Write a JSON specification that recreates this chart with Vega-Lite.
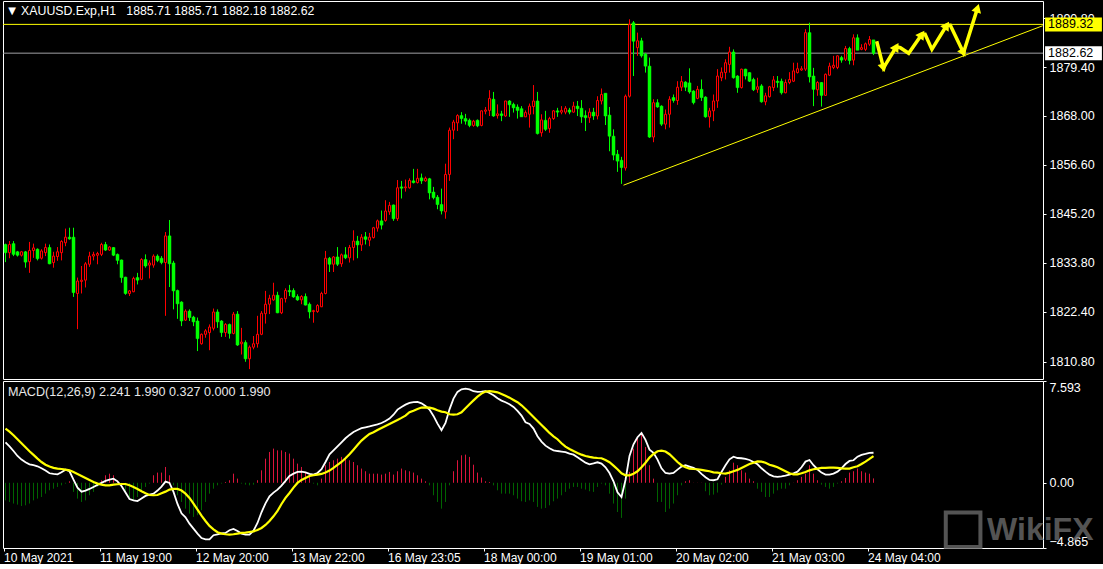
{
"$schema": "https://vega.github.io/schema/vega-lite/v6.json",
"background": "#000000",
"padding": 0,
"spacing": 2,
"bounds": "flush",
"config": {
  "view": {"stroke": "#ffffff", "strokeWidth": 1},
  "scale": {"continuousPadding": 0},
  "axis": {"grid": false, "domain": false, "labelColor": "#ffffff", "tickColor": "#ffffff", "labelFont": "Liberation Sans", "labelFontSize": 12.5, "tickSize": 3}
},
"datasets": {
"bars": [
{"i":0,"o":1838.1,"h":1838.3,"l":1834.0,"c":1836.2,"m":3.02,"s":4.04,"d":-1.31},
{"i":1,"o":1836.2,"h":1838.9,"l":1834.9,"c":1838.1,"m":2.72,"s":3.82,"d":-1.43},
{"i":2,"o":1838.3,"h":1838.9,"l":1835.4,"c":1835.8,"m":2.37,"s":3.55,"d":-1.55},
{"i":3,"o":1836.4,"h":1836.6,"l":1835.3,"c":1835.6,"m":2.00,"s":3.25,"d":-1.63},
{"i":4,"o":1835.6,"h":1836.6,"l":1835.3,"c":1836.4,"m":1.73,"s":2.95,"d":-1.73},
{"i":5,"o":1836.4,"h":1836.6,"l":1832.7,"c":1834.0,"m":1.53,"s":2.65,"d":-1.68},
{"i":6,"o":1834.1,"h":1838.7,"l":1831.5,"c":1836.7,"m":1.38,"s":2.35,"d":-1.55},
{"i":7,"o":1836.7,"h":1838.3,"l":1835.0,"c":1837.3,"m":1.31,"s":2.08,"d":-1.31},
{"i":8,"o":1837.0,"h":1837.2,"l":1834.4,"c":1834.8,"m":1.23,"s":1.80,"d":-1.18},
{"i":9,"o":1834.9,"h":1837.0,"l":1834.6,"c":1836.6,"m":1.08,"s":1.55,"d":-1.06},
{"i":10,"o":1836.2,"h":1838.3,"l":1835.4,"c":1837.4,"m":0.91,"s":1.35,"d":-0.81},
{"i":11,"o":1837.4,"h":1838.1,"l":1833.5,"c":1833.6,"m":0.71,"s":1.21,"d":-0.56},
{"i":12,"o":1833.9,"h":1836.4,"l":1832.7,"c":1835.4,"m":0.66,"s":1.11,"d":-0.44},
{"i":13,"o":1835.3,"h":1837.5,"l":1834.3,"c":1836.4,"m":0.63,"s":1.06,"d":-0.31},
{"i":14,"o":1836.2,"h":1839.1,"l":1834.4,"c":1838.8,"m":0.78,"s":1.03,"d":-0.19},
{"i":15,"o":1838.5,"h":1841.8,"l":1837.7,"c":1839.8,"m":0.98,"s":0.98,"d":-0.06},
{"i":16,"o":1839.8,"h":1842.0,"l":1839.2,"c":1839.4,"m":0.86,"s":0.93,"d":0.11},
{"i":17,"o":1839.8,"h":1842.0,"l":1825.9,"c":1826.9,"m":0.24,"s":0.81,"d":-0.68},
{"i":18,"o":1826.7,"h":1830.4,"l":1818.4,"c":1829.6,"m":-0.36,"s":0.66,"d":-1.18},
{"i":19,"o":1829.5,"h":1833.1,"l":1826.7,"c":1829.8,"m":-0.66,"s":0.51,"d":-1.43},
{"i":20,"o":1829.8,"h":1834.0,"l":1828.1,"c":1833.6,"m":-0.58,"s":0.36,"d":-1.31},
{"i":21,"o":1833.5,"h":1836.4,"l":1832.9,"c":1835.4,"m":-0.46,"s":0.21,"d":-0.93},
{"i":22,"o":1835.4,"h":1836.4,"l":1834.4,"c":1835.8,"m":-0.31,"s":0.06,"d":-0.68},
{"i":23,"o":1835.6,"h":1836.4,"l":1833.5,"c":1836.0,"m":-0.16,"s":-0.06,"d":-0.31},
{"i":24,"o":1835.8,"h":1838.5,"l":1835.4,"c":1838.1,"m":-0.01,"s":-0.14,"d":0.19},
{"i":25,"o":1838.1,"h":1838.7,"l":1836.6,"c":1836.8,"m":0.14,"s":-0.19,"d":0.56},
{"i":26,"o":1836.8,"h":1837.7,"l":1836.6,"c":1837.5,"m":0.24,"s":-0.19,"d":0.68},
{"i":27,"o":1837.4,"h":1837.5,"l":1835.4,"c":1835.6,"m":0.31,"s":-0.14,"d":0.56},
{"i":28,"o":1835.8,"h":1836.0,"l":1833.5,"c":1834.4,"m":0.11,"s":-0.11,"d":0.19},
{"i":29,"o":1834.5,"h":1834.6,"l":1829.2,"c":1830.4,"m":-0.24,"s":-0.09,"d":-0.19},
{"i":30,"o":1830.5,"h":1830.6,"l":1826.4,"c":1826.7,"m":-0.73,"s":-0.09,"d":-0.68},
{"i":31,"o":1826.7,"h":1827.5,"l":1826.1,"c":1827.3,"m":-1.21,"s":-0.19,"d":-1.06},
{"i":32,"o":1827.1,"h":1830.6,"l":1827.0,"c":1830.2,"m":-1.31,"s":-0.31,"d":-1.31},
{"i":33,"o":1830.4,"h":1831.5,"l":1828.8,"c":1829.8,"m":-1.36,"s":-0.46,"d":-1.06},
{"i":34,"o":1830.0,"h":1834.9,"l":1829.8,"c":1834.6,"m":-1.18,"s":-0.63,"d":-0.68},
{"i":35,"o":1834.6,"h":1835.8,"l":1832.7,"c":1833.1,"m":-0.98,"s":-0.78,"d":-0.31},
{"i":36,"o":1833.3,"h":1834.4,"l":1830.2,"c":1833.8,"m":-0.88,"s":-0.91,"d":-0.06},
{"i":37,"o":1833.3,"h":1835.8,"l":1832.7,"c":1835.4,"m":-0.81,"s":-0.93,"d":0.56},
{"i":38,"o":1835.4,"h":1835.8,"l":1834.0,"c":1834.4,"m":-0.58,"s":-0.91,"d":0.76},
{"i":39,"o":1834.9,"h":1835.4,"l":1833.5,"c":1833.9,"m":-0.29,"s":-0.78,"d":0.76},
{"i":40,"o":1833.9,"h":1841.0,"l":1821.5,"c":1840.1,"m":0.09,"s":-0.66,"d":1.18},
{"i":41,"o":1840.1,"h":1843.8,"l":1828.2,"c":1833.6,"m":-0.01,"s":-0.51,"d":0.56},
{"i":42,"o":1833.8,"h":1834.3,"l":1823.0,"c":1827.3,"m":-0.68,"s":-0.46,"d":-0.19},
{"i":43,"o":1827.4,"h":1827.6,"l":1820.8,"c":1824.3,"m":-1.58,"s":-0.46,"d":-0.93},
{"i":44,"o":1824.7,"h":1824.9,"l":1819.1,"c":1820.3,"m":-2.28,"s":-0.58,"d":-1.43},
{"i":45,"o":1820.5,"h":1823.0,"l":1820.3,"c":1822.6,"m":-2.57,"s":-0.81,"d":-1.93},
{"i":46,"o":1822.6,"h":1823.0,"l":1820.3,"c":1821.1,"m":-3.05,"s":-1.13,"d":-2.30},
{"i":47,"o":1821.2,"h":1821.5,"l":1819.1,"c":1820.1,"m":-3.42,"s":-1.55,"d":-2.55},
{"i":48,"o":1820.3,"h":1821.1,"l":1813.3,"c":1816.2,"m":-3.79,"s":-2.00,"d":-2.42},
{"i":49,"o":1815.0,"h":1817.4,"l":1814.8,"c":1817.2,"m":-4.12,"s":-2.45,"d":-2.05},
{"i":50,"o":1817.2,"h":1818.4,"l":1816.4,"c":1818.0,"m":-4.22,"s":-2.85,"d":-1.43},
{"i":51,"o":1817.6,"h":1819.5,"l":1813.5,"c":1818.9,"m":-4.22,"s":-3.22,"d":-0.81},
{"i":52,"o":1818.6,"h":1823.2,"l":1818.1,"c":1822.4,"m":-3.91,"s":-3.47,"d":-0.44},
{"i":53,"o":1822.4,"h":1823.0,"l":1818.7,"c":1820.1,"m":-3.84,"s":-3.69,"d":-0.19},
{"i":54,"o":1820.3,"h":1820.5,"l":1816.6,"c":1817.6,"m":-3.77,"s":-3.79,"d":-0.06},
{"i":55,"o":1817.6,"h":1819.8,"l":1816.6,"c":1819.5,"m":-3.74,"s":-3.84,"d":0.06},
{"i":56,"o":1819.5,"h":1819.7,"l":1816.2,"c":1817.4,"m":-3.54,"s":-3.86,"d":0.19},
{"i":57,"o":1817.4,"h":1822.4,"l":1817.2,"c":1821.9,"m":-3.44,"s":-3.84,"d":0.68},
{"i":58,"o":1821.9,"h":1822.6,"l":1814.5,"c":1814.7,"m":-3.59,"s":-3.79,"d":0.31},
{"i":59,"o":1815.0,"h":1818.7,"l":1812.5,"c":1815.4,"m":-3.79,"s":-3.74,"d":-0.06},
{"i":60,"o":1815.3,"h":1815.8,"l":1810.8,"c":1811.5,"m":-3.86,"s":-3.72,"d":-0.14},
{"i":61,"o":1811.5,"h":1814.6,"l":1809.1,"c":1814.2,"m":-3.86,"s":-3.67,"d":-0.19},
{"i":62,"o":1814.2,"h":1816.8,"l":1813.7,"c":1815.0,"m":-3.57,"s":-3.62,"d":-0.14},
{"i":63,"o":1815.0,"h":1821.5,"l":1814.1,"c":1817.2,"m":-3.00,"s":-3.52,"d":0.19},
{"i":64,"o":1817.2,"h":1822.6,"l":1817.0,"c":1822.1,"m":-2.20,"s":-3.37,"d":0.93},
{"i":65,"o":1822.0,"h":1827.3,"l":1819.7,"c":1824.2,"m":-1.53,"s":-3.15,"d":1.80},
{"i":66,"o":1824.2,"h":1826.4,"l":1821.9,"c":1825.6,"m":-1.01,"s":-2.85,"d":2.30},
{"i":67,"o":1825.2,"h":1829.2,"l":1825.0,"c":1826.3,"m":-0.73,"s":-2.50,"d":2.55},
{"i":68,"o":1826.3,"h":1827.1,"l":1822.1,"c":1822.2,"m":-0.51,"s":-2.10,"d":2.42},
{"i":69,"o":1822.2,"h":1825.7,"l":1821.9,"c":1825.5,"m":-0.21,"s":-1.58,"d":2.42},
{"i":70,"o":1825.5,"h":1827.9,"l":1824.6,"c":1827.4,"m":0.14,"s":-1.13,"d":2.30},
{"i":71,"o":1827.4,"h":1828.7,"l":1826.1,"c":1827.1,"m":0.51,"s":-0.76,"d":2.18},
{"i":72,"o":1827.4,"h":1827.9,"l":1825.7,"c":1825.9,"m":0.68,"s":-0.36,"d":1.80},
{"i":73,"o":1826.0,"h":1826.5,"l":1825.0,"c":1825.2,"m":0.81,"s":-0.01,"d":1.43},
{"i":74,"o":1825.2,"h":1826.3,"l":1824.2,"c":1826.0,"m":0.83,"s":0.21,"d":1.18},
{"i":75,"o":1826.0,"h":1826.7,"l":1823.9,"c":1824.0,"m":0.78,"s":0.36,"d":0.81},
{"i":76,"o":1824.2,"h":1824.6,"l":1820.9,"c":1822.4,"m":0.66,"s":0.51,"d":0.44},
{"i":77,"o":1822.5,"h":1822.9,"l":1819.9,"c":1822.7,"m":0.61,"s":0.56,"d":-0.06},
{"i":78,"o":1822.5,"h":1824.2,"l":1822.2,"c":1823.9,"m":0.73,"s":0.61,"d":-0.19},
{"i":79,"o":1823.6,"h":1827.1,"l":1823.6,"c":1826.7,"m":1.01,"s":0.66,"d":0.31},
{"i":80,"o":1826.7,"h":1836.6,"l":1826.5,"c":1834.9,"m":1.55,"s":0.76,"d":1.31},
{"i":81,"o":1834.9,"h":1835.2,"l":1831.7,"c":1833.5,"m":2.13,"s":0.91,"d":1.55},
{"i":82,"o":1833.5,"h":1835.4,"l":1831.7,"c":1835.2,"m":2.42,"s":1.11,"d":1.68},
{"i":83,"o":1835.2,"h":1837.5,"l":1833.1,"c":1833.5,"m":2.72,"s":1.33,"d":1.80},
{"i":84,"o":1833.6,"h":1836.0,"l":1832.9,"c":1835.7,"m":3.02,"s":1.55,"d":1.93},
{"i":85,"o":1835.7,"h":1837.5,"l":1834.7,"c":1835.0,"m":3.32,"s":1.83,"d":1.93},
{"i":86,"o":1835.0,"h":1838.0,"l":1833.9,"c":1837.4,"m":3.57,"s":2.13,"d":1.68},
{"i":87,"o":1837.4,"h":1841.4,"l":1834.4,"c":1838.9,"m":3.79,"s":2.47,"d":1.55},
{"i":88,"o":1838.9,"h":1840.1,"l":1834.9,"c":1838.0,"m":3.94,"s":2.82,"d":1.31},
{"i":89,"o":1838.0,"h":1840.5,"l":1836.6,"c":1839.8,"m":4.07,"s":3.15,"d":1.06},
{"i":90,"o":1839.9,"h":1841.0,"l":1838.1,"c":1839.3,"m":4.14,"s":3.40,"d":0.86},
{"i":91,"o":1839.1,"h":1840.8,"l":1837.7,"c":1839.8,"m":4.21,"s":3.64,"d":0.68},
{"i":92,"o":1839.7,"h":1842.2,"l":1839.5,"c":1842.0,"m":4.29,"s":3.77,"d":0.68},
{"i":93,"o":1841.9,"h":1843.9,"l":1841.1,"c":1843.6,"m":4.36,"s":3.94,"d":0.68},
{"i":94,"o":1843.6,"h":1846.0,"l":1841.6,"c":1842.6,"m":4.46,"s":4.09,"d":0.61},
{"i":95,"o":1843.7,"h":1848.4,"l":1843.4,"c":1845.9,"m":4.61,"s":4.24,"d":0.68},
{"i":96,"o":1845.7,"h":1848.0,"l":1845.0,"c":1847.2,"m":4.79,"s":4.39,"d":0.81},
{"i":97,"o":1847.3,"h":1847.4,"l":1843.6,"c":1844.1,"m":5.08,"s":4.54,"d":0.61},
{"i":98,"o":1844.1,"h":1853.1,"l":1843.6,"c":1851.3,"m":5.46,"s":4.69,"d":0.86},
{"i":99,"o":1851.5,"h":1852.9,"l":1848.8,"c":1851.2,"m":5.66,"s":4.84,"d":1.06},
{"i":100,"o":1851.3,"h":1853.2,"l":1850.4,"c":1851.5,"m":5.83,"s":5.01,"d":0.93},
{"i":101,"o":1851.3,"h":1853.5,"l":1851.1,"c":1853.0,"m":5.96,"s":5.26,"d":0.86},
{"i":102,"o":1852.9,"h":1855.7,"l":1852.3,"c":1852.5,"m":6.01,"s":5.38,"d":0.76},
{"i":103,"o":1852.5,"h":1855.7,"l":1852.3,"c":1853.5,"m":6.03,"s":5.51,"d":0.56},
{"i":104,"o":1853.6,"h":1854.6,"l":1852.2,"c":1852.9,"m":5.93,"s":5.61,"d":0.31},
{"i":105,"o":1852.9,"h":1853.9,"l":1852.7,"c":1853.5,"m":5.73,"s":5.63,"d":0.11},
{"i":106,"o":1853.4,"h":1853.6,"l":1848.6,"c":1850.1,"m":5.46,"s":5.61,"d":-0.19},
{"i":107,"o":1850.3,"h":1851.5,"l":1848.6,"c":1849.0,"m":4.99,"s":5.53,"d":-0.93},
{"i":108,"o":1849.1,"h":1849.6,"l":1846.3,"c":1847.4,"m":4.41,"s":5.41,"d":-1.43},
{"i":109,"o":1847.4,"h":1851.1,"l":1845.1,"c":1845.9,"m":3.92,"s":5.31,"d":-1.93},
{"i":110,"o":1845.7,"h":1856.9,"l":1844.1,"c":1854.4,"m":4.46,"s":5.26,"d":-1.43},
{"i":111,"o":1854.4,"h":1865.3,"l":1852.9,"c":1864.7,"m":5.48,"s":5.11,"d":-0.19},
{"i":112,"o":1864.7,"h":1867.1,"l":1862.6,"c":1866.6,"m":6.28,"s":5.08,"d":0.86},
{"i":113,"o":1866.4,"h":1868.4,"l":1864.5,"c":1868.1,"m":6.78,"s":5.11,"d":1.68},
{"i":114,"o":1868.1,"h":1868.9,"l":1866.2,"c":1867.4,"m":6.97,"s":5.26,"d":2.05},
{"i":115,"o":1867.4,"h":1868.5,"l":1866.0,"c":1866.8,"m":7.02,"s":5.56,"d":2.10},
{"i":116,"o":1867.0,"h":1867.4,"l":1865.4,"c":1865.8,"m":6.97,"s":5.86,"d":1.93},
{"i":117,"o":1865.8,"h":1867.1,"l":1865.5,"c":1866.8,"m":6.83,"s":6.15,"d":1.35},
{"i":118,"o":1867.0,"h":1867.2,"l":1865.4,"c":1865.7,"m":6.78,"s":6.43,"d":0.76},
{"i":119,"o":1865.8,"h":1869.3,"l":1865.6,"c":1869.2,"m":6.80,"s":6.65,"d":0.39},
{"i":120,"o":1869.1,"h":1870.1,"l":1868.4,"c":1869.4,"m":6.83,"s":6.80,"d":0.11},
{"i":121,"o":1869.3,"h":1874.0,"l":1868.0,"c":1872.1,"m":6.70,"s":6.83,"d":0.06},
{"i":122,"o":1871.9,"h":1873.6,"l":1867.8,"c":1868.0,"m":6.53,"s":6.80,"d":-0.19},
{"i":123,"o":1868.1,"h":1870.7,"l":1867.4,"c":1868.5,"m":6.30,"s":6.75,"d":-0.56},
{"i":124,"o":1868.5,"h":1869.2,"l":1866.8,"c":1868.1,"m":6.13,"s":6.63,"d":-0.81},
{"i":125,"o":1868.0,"h":1871.5,"l":1867.8,"c":1871.5,"m":6.01,"s":6.50,"d":-0.81},
{"i":126,"o":1871.5,"h":1871.7,"l":1867.8,"c":1870.6,"m":5.86,"s":6.35,"d":-0.81},
{"i":127,"o":1870.7,"h":1871.1,"l":1868.8,"c":1869.9,"m":5.66,"s":6.18,"d":-0.93},
{"i":128,"o":1870.1,"h":1870.7,"l":1867.4,"c":1869.3,"m":5.36,"s":6.01,"d":-1.18},
{"i":129,"o":1869.7,"h":1870.3,"l":1867.8,"c":1867.8,"m":5.01,"s":5.78,"d":-1.38},
{"i":130,"o":1867.8,"h":1869.3,"l":1867.8,"c":1868.8,"m":4.51,"s":5.51,"d":-1.43},
{"i":131,"o":1868.4,"h":1870.9,"l":1865.3,"c":1870.3,"m":4.39,"s":5.21,"d":-1.31},
{"i":132,"o":1870.2,"h":1875.2,"l":1868.4,"c":1871.5,"m":4.04,"s":4.91,"d":-1.43},
{"i":133,"o":1871.5,"h":1873.6,"l":1863.7,"c":1863.9,"m":3.47,"s":4.61,"d":-1.80},
{"i":134,"o":1864.1,"h":1868.4,"l":1863.2,"c":1867.1,"m":3.07,"s":4.31,"d":-1.93},
{"i":135,"o":1867.0,"h":1869.2,"l":1864.5,"c":1864.9,"m":2.77,"s":4.02,"d":-1.88},
{"i":136,"o":1865.1,"h":1867.8,"l":1864.1,"c":1867.4,"m":2.57,"s":3.72,"d":-1.68},
{"i":137,"o":1867.4,"h":1869.4,"l":1867.1,"c":1869.2,"m":2.42,"s":3.47,"d":-1.38},
{"i":138,"o":1869.2,"h":1869.9,"l":1867.8,"c":1868.9,"m":2.37,"s":3.25,"d":-1.18},
{"i":139,"o":1868.9,"h":1870.3,"l":1868.4,"c":1869.3,"m":2.33,"s":2.95,"d":-0.93},
{"i":140,"o":1868.9,"h":1870.3,"l":1868.4,"c":1869.8,"m":2.28,"s":2.70,"d":-0.68},
{"i":141,"o":1869.4,"h":1869.9,"l":1868.4,"c":1868.9,"m":2.18,"s":2.52,"d":-0.44},
{"i":142,"o":1868.9,"h":1871.3,"l":1868.8,"c":1870.3,"m":2.10,"s":2.37,"d":-0.31},
{"i":143,"o":1870.3,"h":1871.5,"l":1868.0,"c":1869.7,"m":1.90,"s":2.23,"d":-0.31},
{"i":144,"o":1869.8,"h":1871.7,"l":1866.4,"c":1867.8,"m":1.70,"s":2.10,"d":-0.44},
{"i":145,"o":1868.1,"h":1869.3,"l":1864.5,"c":1867.6,"m":1.50,"s":2.00,"d":-0.51},
{"i":146,"o":1867.6,"h":1869.8,"l":1866.4,"c":1868.9,"m":1.38,"s":1.93,"d":-0.63},
{"i":147,"o":1868.9,"h":1869.9,"l":1867.1,"c":1868.0,"m":1.45,"s":1.88,"d":-0.68},
{"i":148,"o":1868.0,"h":1872.6,"l":1867.2,"c":1871.6,"m":1.53,"s":1.85,"d":-0.31},
{"i":149,"o":1871.5,"h":1874.4,"l":1870.7,"c":1873.0,"m":1.43,"s":1.83,"d":-0.06},
{"i":150,"o":1873.3,"h":1873.3,"l":1865.9,"c":1868.0,"m":1.16,"s":1.70,"d":-0.19},
{"i":151,"o":1868.2,"h":1870.1,"l":1859.8,"c":1863.3,"m":0.73,"s":1.53,"d":-0.81},
{"i":152,"o":1863.3,"h":1864.9,"l":1857.7,"c":1858.9,"m":0.11,"s":1.28,"d":-1.55},
{"i":153,"o":1859.1,"h":1860.1,"l":1855.0,"c":1857.5,"m":-0.71,"s":1.01,"d":-2.18},
{"i":154,"o":1857.7,"h":1858.5,"l":1852.2,"c":1856.0,"m":-1.06,"s":0.71,"d":-2.62},
{"i":155,"o":1855.9,"h":1873.0,"l":1855.3,"c":1872.6,"m":0.21,"s":0.56,"d":-1.18},
{"i":156,"o":1872.6,"h":1890.5,"l":1872.3,"c":1889.3,"m":2.00,"s":0.56,"d":0.81},
{"i":157,"o":1889.7,"h":1890.1,"l":1877.3,"c":1885.4,"m":2.87,"s":0.68,"d":2.55},
{"i":158,"o":1883.9,"h":1887.4,"l":1882.0,"c":1885.5,"m":3.40,"s":0.86,"d":3.30},
{"i":159,"o":1885.5,"h":1886.2,"l":1881.6,"c":1882.0,"m":3.72,"s":1.16,"d":3.67},
{"i":160,"o":1882.4,"h":1882.7,"l":1878.1,"c":1879.6,"m":3.20,"s":1.50,"d":2.67},
{"i":161,"o":1879.6,"h":1881.6,"l":1862.9,"c":1863.1,"m":2.47,"s":1.88,"d":1.31},
{"i":162,"o":1863.1,"h":1871.9,"l":1861.9,"c":1871.1,"m":2.23,"s":2.15,"d":0.31},
{"i":163,"o":1871.1,"h":1871.9,"l":1869.9,"c":1870.1,"m":1.73,"s":2.35,"d":-1.43},
{"i":164,"o":1870.3,"h":1870.5,"l":1865.7,"c":1866.1,"m":1.08,"s":2.40,"d":-1.43},
{"i":165,"o":1866.1,"h":1869.5,"l":1864.9,"c":1868.4,"m":0.73,"s":2.33,"d":-2.18},
{"i":166,"o":1868.4,"h":1872.6,"l":1865.3,"c":1871.9,"m":0.68,"s":2.13,"d":-1.93},
{"i":167,"o":1872.3,"h":1873.0,"l":1871.1,"c":1871.6,"m":0.73,"s":1.85,"d":-1.55},
{"i":168,"o":1871.6,"h":1876.1,"l":1870.6,"c":1874.7,"m":0.98,"s":1.55,"d":-0.93},
{"i":169,"o":1874.7,"h":1877.3,"l":1873.8,"c":1876.0,"m":1.21,"s":1.31,"d":-0.19},
{"i":170,"o":1875.9,"h":1876.1,"l":1873.8,"c":1874.7,"m":1.31,"s":1.16,"d":0.11},
{"i":171,"o":1875.7,"h":1879.1,"l":1873.2,"c":1873.6,"m":1.21,"s":1.06,"d":0.19},
{"i":172,"o":1873.8,"h":1874.0,"l":1870.7,"c":1871.1,"m":1.11,"s":1.03,"d":0.01},
{"i":173,"o":1872.1,"h":1875.0,"l":1871.9,"c":1874.2,"m":0.96,"s":1.01,"d":0.01},
{"i":174,"o":1874.2,"h":1876.5,"l":1871.5,"c":1872.3,"m":0.66,"s":0.96,"d":0.01},
{"i":175,"o":1872.4,"h":1872.6,"l":1867.6,"c":1867.8,"m":0.41,"s":0.91,"d":-0.63},
{"i":176,"o":1867.8,"h":1869.9,"l":1865.3,"c":1869.2,"m":0.21,"s":0.86,"d":-0.93},
{"i":177,"o":1869.2,"h":1873.0,"l":1866.8,"c":1871.5,"m":0.19,"s":0.78,"d":-0.88},
{"i":178,"o":1871.5,"h":1878.9,"l":1869.9,"c":1877.3,"m":0.26,"s":0.76,"d":-0.73},
{"i":179,"o":1876.9,"h":1879.3,"l":1876.1,"c":1878.2,"m":0.81,"s":0.71,"d":-0.14},
{"i":180,"o":1878.1,"h":1881.2,"l":1876.5,"c":1880.4,"m":1.31,"s":0.68,"d":0.44},
{"i":181,"o":1880.0,"h":1884.1,"l":1878.1,"c":1882.9,"m":1.75,"s":0.76,"d":0.93},
{"i":182,"o":1882.9,"h":1883.5,"l":1876.7,"c":1876.9,"m":1.95,"s":0.86,"d":1.50},
{"i":183,"o":1877.3,"h":1877.5,"l":1873.4,"c":1874.6,"m":1.85,"s":0.96,"d":1.31},
{"i":184,"o":1874.6,"h":1879.0,"l":1874.4,"c":1878.9,"m":1.83,"s":1.11,"d":0.93},
{"i":185,"o":1878.9,"h":1879.0,"l":1876.5,"c":1877.3,"m":1.78,"s":1.26,"d":0.76},
{"i":186,"o":1878.1,"h":1878.2,"l":1875.9,"c":1876.1,"m":1.70,"s":1.40,"d":0.31},
{"i":187,"o":1876.5,"h":1876.9,"l":1873.8,"c":1874.1,"m":1.55,"s":1.50,"d":0.11},
{"i":188,"o":1874.2,"h":1876.9,"l":1873.4,"c":1874.8,"m":1.38,"s":1.60,"d":-0.44},
{"i":189,"o":1875.0,"h":1875.4,"l":1871.1,"c":1871.3,"m":1.08,"s":1.58,"d":-0.68},
{"i":190,"o":1871.3,"h":1873.4,"l":1870.5,"c":1872.7,"m":0.83,"s":1.50,"d":-1.06},
{"i":191,"o":1872.5,"h":1875.0,"l":1872.3,"c":1874.8,"m":0.61,"s":1.35,"d":-1.06},
{"i":192,"o":1874.6,"h":1877.3,"l":1873.8,"c":1876.4,"m":0.48,"s":1.26,"d":-0.81},
{"i":193,"o":1876.1,"h":1877.3,"l":1874.6,"c":1875.8,"m":0.44,"s":1.16,"d":-0.56},
{"i":194,"o":1876.1,"h":1876.7,"l":1873.0,"c":1873.4,"m":0.48,"s":1.01,"d":-0.44},
{"i":195,"o":1873.4,"h":1876.5,"l":1873.3,"c":1875.8,"m":0.53,"s":0.86,"d":-0.44},
{"i":196,"o":1875.8,"h":1878.2,"l":1875.4,"c":1876.5,"m":0.61,"s":0.71,"d":-0.19},
{"i":197,"o":1876.1,"h":1880.4,"l":1875.9,"c":1878.5,"m":0.71,"s":0.63,"d":0.01},
{"i":198,"o":1878.1,"h":1880.4,"l":1877.9,"c":1879.0,"m":0.83,"s":0.63,"d":0.19},
{"i":199,"o":1878.7,"h":1879.6,"l":1878.5,"c":1879.0,"m":1.16,"s":0.71,"d":0.44},
{"i":200,"o":1878.9,"h":1888.2,"l":1878.5,"c":1887.4,"m":1.58,"s":0.81,"d":0.68},
{"i":201,"o":1887.4,"h":1889.7,"l":1875.8,"c":1877.1,"m":1.70,"s":0.93,"d":1.31},
{"i":202,"o":1877.3,"h":1879.2,"l":1870.3,"c":1874.2,"m":1.31,"s":1.01,"d":0.68},
{"i":203,"o":1874.1,"h":1876.1,"l":1872.7,"c":1875.8,"m":1.01,"s":1.06,"d":0.19},
{"i":204,"o":1875.8,"h":1875.9,"l":1870.2,"c":1872.8,"m":0.76,"s":1.11,"d":-0.14},
{"i":205,"o":1872.8,"h":1877.9,"l":1872.7,"c":1877.7,"m":0.61,"s":1.11,"d":-0.31},
{"i":206,"o":1877.5,"h":1880.4,"l":1877.3,"c":1879.6,"m":0.61,"s":1.13,"d":-0.44},
{"i":207,"o":1879.3,"h":1882.0,"l":1878.9,"c":1879.8,"m":0.68,"s":1.13,"d":-0.31},
{"i":208,"o":1879.3,"h":1882.1,"l":1878.9,"c":1882.0,"m":0.83,"s":1.11,"d":-0.06},
{"i":209,"o":1881.6,"h":1882.0,"l":1880.4,"c":1881.0,"m":1.08,"s":1.08,"d":0.11},
{"i":210,"o":1881.2,"h":1884.3,"l":1880.8,"c":1883.7,"m":1.40,"s":1.06,"d":0.36},
{"i":211,"o":1883.7,"h":1884.1,"l":1880.0,"c":1880.9,"m":1.63,"s":1.06,"d":0.76},
{"i":212,"o":1881.0,"h":1887.0,"l":1879.8,"c":1886.2,"m":1.68,"s":1.16,"d":0.86},
{"i":213,"o":1886.2,"h":1887.0,"l":1883.3,"c":1883.3,"m":1.95,"s":1.23,"d":1.06},
{"i":214,"o":1883.5,"h":1884.7,"l":1883.3,"c":1883.9,"m":2.08,"s":1.40,"d":0.86},
{"i":215,"o":1883.5,"h":1885.1,"l":1883.1,"c":1884.8,"m":2.15,"s":1.58,"d":0.76},
{"i":216,"o":1884.7,"h":1886.6,"l":1884.3,"c":1885.8,"m":2.23,"s":1.78,"d":0.68},
{"i":217,"o":1885.71,"h":1885.71,"l":1882.18,"c":1882.62,"m":2.241,"s":1.990,"d":0.327}
],
"levels": [{"p":1889.32,"name":"res"},{"p":1882.62,"name":"bid"}],
"trend": [{"i":154.5,"p":1851.9},{"i":259.3,"p":1889.0}],
"arrow": [
{"k":0,"i":217.8,"p":1885.4},{"k":1,"i":219.5,"p":1879.2},{"k":2,"i":222.7,"p":1884.1},{"k":3,"i":223.7,"p":1883.9},
{"k":4,"i":225.8,"p":1882.6},{"k":5,"i":229.1,"p":1887.0},{"k":6,"i":229.9,"p":1887.0},{"k":7,"i":231.6,"p":1883.5},
{"k":8,"i":235.3,"p":1889.1},{"k":9,"i":236.2,"p":1889.1},{"k":10,"i":239.5,"p":1882.7},{"k":11,"i":243.0,"p":1893.1}
],
"heads": [
{"i":219.5,"p":1879.2,"a":166},{"i":222.7,"p":1884.1,"a":31},{"i":229.1,"p":1887.0,"a":35},
{"i":235.3,"p":1889.1,"a":32},{"i":239.5,"p":1882.7,"a":154},{"i":243.0,"p":1893.1,"a":17}
],
"tags": [{"p":1889.32,"t":"1889.32","name":"res"},{"p":1882.62,"t":"1882.62","name":"bid"}]
},
"vconcat": [
{
"width": 1040, "height": 378,
"layer": [
{"data": {"name": "levels"}, "mark": {"type": "rule", "strokeWidth": 1},
 "encoding": {
  "y": {"field": "p", "type": "quantitative", "scale": {"domain": [1806.8, 1894.76], "nice": false, "zero": false, "padding": 0},
        "axis": {"orient": "right", "values": [1810.8, 1822.4, 1833.8, 1845.2, 1856.6, 1868.0, 1879.4, 1890.8], "format": ".2f", "labelPadding": 3, "labelFlush": false, "labelOverlap": false, "title": null}},
  "color": {"field": "name", "type": "nominal", "scale": {"domain": ["res", "bid"], "range": ["#ffff00", "#a0a0a4"]}, "legend": null}}},
{"data": {"name": "trend"}, "mark": {"type": "line", "color": "#ffff00", "strokeWidth": 1},
 "encoding": {
  "x": {"field": "i", "type": "quantitative", "scale": {"domain": [-0.625, 259.375], "nice": false, "zero": false, "padding": 0}, "axis": null},
  "y": {"field": "p", "type": "quantitative", "scale": {"domain": [1806.8, 1894.76], "nice": false, "zero": false, "padding": 0},
        "axis": {"orient": "right", "values": [1810.8, 1822.4, 1833.8, 1845.2, 1856.6, 1868.0, 1879.4, 1890.8], "format": ".2f", "labelPadding": 3, "labelFlush": false, "labelOverlap": false, "title": null}}}},
{"data": {"name": "bars"}, "mark": {"type": "rule", "strokeWidth": 1},
 "encoding": {
  "x": {"field": "i", "type": "quantitative", "scale": {"domain": [-0.625, 259.375], "nice": false, "zero": false, "padding": 0}, "axis": null},
  "y": {"field": "l", "type": "quantitative", "scale": {"domain": [1806.8, 1894.76], "nice": false, "zero": false, "padding": 0},
        "axis": {"orient": "right", "values": [1810.8, 1822.4, 1833.8, 1845.2, 1856.6, 1868.0, 1879.4, 1890.8], "format": ".2f", "labelPadding": 3, "labelFlush": false, "labelOverlap": false, "title": null}},
  "y2": {"field": "h"},
  "color": {"condition": {"test": "datum.c >= datum.o", "value": "#ff0000"}, "value": "#00ff00"}}},
{"data": {"name": "bars"}, "transform": [{"filter": "datum.c < datum.o"}],
 "mark": {"type": "bar", "width": 3, "color": "#00ff00", "stroke": "#00ff00", "strokeWidth": 0.5},
 "encoding": {
  "x": {"field": "i", "type": "quantitative", "scale": {"domain": [-0.625, 259.375], "nice": false, "zero": false, "padding": 0}, "axis": null},
  "y": {"field": "o", "type": "quantitative", "scale": {"domain": [1806.8, 1894.76], "nice": false, "zero": false, "padding": 0},
        "axis": {"orient": "right", "values": [1810.8, 1822.4, 1833.8, 1845.2, 1856.6, 1868.0, 1879.4, 1890.8], "format": ".2f", "labelPadding": 3, "labelFlush": false, "labelOverlap": false, "title": null}},
  "y2": {"field": "c"}}},
{"data": {"name": "bars"}, "transform": [{"filter": "datum.c >= datum.o"}],
 "mark": {"type": "bar", "width": 2, "fill": "#000000", "stroke": "#ff0000", "strokeWidth": 1},
 "encoding": {
  "x": {"field": "i", "type": "quantitative", "scale": {"domain": [-0.625, 259.375], "nice": false, "zero": false, "padding": 0}, "axis": null},
  "y": {"field": "o", "type": "quantitative", "scale": {"domain": [1806.8, 1894.76], "nice": false, "zero": false, "padding": 0},
        "axis": {"orient": "right", "values": [1810.8, 1822.4, 1833.8, 1845.2, 1856.6, 1868.0, 1879.4, 1890.8], "format": ".2f", "labelPadding": 3, "labelFlush": false, "labelOverlap": false, "title": null}},
  "y2": {"field": "c"}}},
{"data": {"name": "arrow"}, "mark": {"type": "line", "color": "#ffff00", "strokeWidth": 3.5, "strokeJoin": "miter"},
 "encoding": {
  "x": {"field": "i", "type": "quantitative", "scale": {"domain": [-0.625, 259.375], "nice": false, "zero": false, "padding": 0}, "axis": null},
  "y": {"field": "p", "type": "quantitative", "scale": {"domain": [1806.8, 1894.76], "nice": false, "zero": false, "padding": 0},
        "axis": {"orient": "right", "values": [1810.8, 1822.4, 1833.8, 1845.2, 1856.6, 1868.0, 1879.4, 1890.8], "format": ".2f", "labelPadding": 3, "labelFlush": false, "labelOverlap": false, "title": null}},
  "order": {"field": "k", "type": "quantitative"}}},
{"data": {"name": "heads"}, "mark": {"type": "point", "shape": "triangle-up", "filled": true, "color": "#ffff00", "size": 100, "opacity": 1},
 "encoding": {
  "x": {"field": "i", "type": "quantitative", "scale": {"domain": [-0.625, 259.375], "nice": false, "zero": false, "padding": 0}, "axis": null},
  "y": {"field": "p", "type": "quantitative", "scale": {"domain": [1806.8, 1894.76], "nice": false, "zero": false, "padding": 0},
        "axis": {"orient": "right", "values": [1810.8, 1822.4, 1833.8, 1845.2, 1856.6, 1868.0, 1879.4, 1890.8], "format": ".2f", "labelPadding": 3, "labelFlush": false, "labelOverlap": false, "title": null}},
  "angle": {"field": "a", "type": "quantitative", "scale": null}}},
{"data": {"name": "tags"}, "mark": {"type": "rect", "height": 14},
 "encoding": {
  "x": {"datum": 259.9, "type": "quantitative", "scale": {"domain": [-0.625, 259.375], "nice": false, "zero": false, "padding": 0}, "axis": null},
  "x2": {"datum": 274.1},
  "y": {"field": "p", "type": "quantitative", "scale": {"domain": [1806.8, 1894.76], "nice": false, "zero": false, "padding": 0},
        "axis": {"orient": "right", "values": [1810.8, 1822.4, 1833.8, 1845.2, 1856.6, 1868.0, 1879.4, 1890.8], "format": ".2f", "labelPadding": 3, "labelFlush": false, "labelOverlap": false, "title": null}},
  "fill": {"field": "name", "type": "nominal", "scale": {"domain": ["res", "bid"], "range": ["#ffff00", "#ffffff"]}, "legend": null}}},
{"data": {"name": "tags"}, "mark": {"type": "text", "align": "left", "baseline": "middle", "font": "Liberation Sans", "fontSize": 12.5, "color": "#000000", "dx": 3},
 "encoding": {
  "x": {"datum": 259.9, "type": "quantitative", "scale": {"domain": [-0.625, 259.375], "nice": false, "zero": false, "padding": 0}, "axis": null},
  "y": {"field": "p", "type": "quantitative", "scale": {"domain": [1806.8, 1894.76], "nice": false, "zero": false, "padding": 0},
        "axis": {"orient": "right", "values": [1810.8, 1822.4, 1833.8, 1845.2, 1856.6, 1868.0, 1879.4, 1890.8], "format": ".2f", "labelPadding": 3, "labelFlush": false, "labelOverlap": false, "title": null}},
  "text": {"field": "t"}}},
{"data": {"values": [{}]}, "mark": {"type": "text", "align": "left", "baseline": "middle", "font": "DejaVu Sans", "fontSize": 10, "color": "#ffffff", "text": "▼"},
 "encoding": {
  "x": {"datum": 0.7, "type": "quantitative", "scale": {"domain": [-0.625, 259.375], "nice": false, "zero": false, "padding": 0}, "axis": null},
  "y": {"datum": 1892.4, "type": "quantitative", "scale": {"domain": [1806.8, 1894.76], "nice": false, "zero": false, "padding": 0},
        "axis": {"orient": "right", "values": [1810.8, 1822.4, 1833.8, 1845.2, 1856.6, 1868.0, 1879.4, 1890.8], "format": ".2f", "labelPadding": 3, "labelFlush": false, "labelOverlap": false, "title": null}}}},
{"data": {"values": [{}]}, "mark": {"type": "text", "align": "left", "baseline": "middle", "font": "Liberation Sans", "fontSize": 12.3, "color": "#ffffff", "text": "XAUUSD.Exp,H1\u00a0\u00a0\u00a01885.71 1885.71 1882.18 1882.62"},
 "encoding": {
  "x": {"datum": 3.9, "type": "quantitative", "scale": {"domain": [-0.625, 259.375], "nice": false, "zero": false, "padding": 0}, "axis": null},
  "y": {"datum": 1892.4, "type": "quantitative", "scale": {"domain": [1806.8, 1894.76], "nice": false, "zero": false, "padding": 0},
        "axis": {"orient": "right", "values": [1810.8, 1822.4, 1833.8, 1845.2, 1856.6, 1868.0, 1879.4, 1890.8], "format": ".2f", "labelPadding": 3, "labelFlush": false, "labelOverlap": false, "title": null}}}}
]
},
{
"width": 1040, "height": 167,
"layer": [
{"data": {"name": "bars"}, "mark": {"type": "rule", "strokeWidth": 1},
 "encoding": {
  "x": {"field": "i", "type": "quantitative", "scale": {"domain": [-0.625, 259.375], "nice": false, "zero": false, "padding": 0},
        "axis": {"orient": "bottom", "values": [-0.5, 23.5, 47.5, 71.5, 95.5, 119.5, 143.5, 167.5, 191.5, 215.5], "labelExpr": "['10 May 2021','11 May 19:00','12 May 20:00','13 May 22:00','16 May 23:05','18 May 00:00','19 May 01:00','20 May 02:00','21 May 03:00','24 May 04:00'][round((datum.value + 0.5) / 24)]", "labelAlign": "left", "labelFontSize": 12, "labelPadding": 1, "labelFlush": false, "labelOverlap": false, "title": null}},
  "y": {"field": "d", "type": "quantitative", "scale": {"domain": [-4.865, 7.593], "nice": false, "zero": false, "padding": 0},
        "axis": {"orient": "right", "values": [-4.865, 0, 7.593], "labelExpr": "datum.value == 0 ? '0.00' : format(datum.value, '.3f')", "labelFlush": true, "labelPadding": 3, "labelOverlap": false, "title": null}},
  "y2": {"datum": 0},
  "color": {"condition": {"test": "datum.d >= 0", "value": "#dc143c"}, "value": "#006400"}}},
{"data": {"name": "bars"}, "mark": {"type": "line", "color": "#ffffff", "strokeWidth": 1.8},
 "encoding": {
  "x": {"field": "i", "type": "quantitative", "scale": {"domain": [-0.625, 259.375], "nice": false, "zero": false, "padding": 0},
        "axis": {"orient": "bottom", "values": [-0.5, 23.5, 47.5, 71.5, 95.5, 119.5, 143.5, 167.5, 191.5, 215.5], "labelExpr": "['10 May 2021','11 May 19:00','12 May 20:00','13 May 22:00','16 May 23:05','18 May 00:00','19 May 01:00','20 May 02:00','21 May 03:00','24 May 04:00'][round((datum.value + 0.5) / 24)]", "labelAlign": "left", "labelFontSize": 12, "labelPadding": 1, "labelFlush": false, "labelOverlap": false, "title": null}},
  "y": {"field": "m", "type": "quantitative", "scale": {"domain": [-4.865, 7.593], "nice": false, "zero": false, "padding": 0},
        "axis": {"orient": "right", "values": [-4.865, 0, 7.593], "labelExpr": "datum.value == 0 ? '0.00' : format(datum.value, '.3f')", "labelFlush": true, "labelPadding": 3, "labelOverlap": false, "title": null}}}},
{"data": {"name": "bars"}, "mark": {"type": "line", "color": "#ffff00", "strokeWidth": 2.2},
 "encoding": {
  "x": {"field": "i", "type": "quantitative", "scale": {"domain": [-0.625, 259.375], "nice": false, "zero": false, "padding": 0},
        "axis": {"orient": "bottom", "values": [-0.5, 23.5, 47.5, 71.5, 95.5, 119.5, 143.5, 167.5, 191.5, 215.5], "labelExpr": "['10 May 2021','11 May 19:00','12 May 20:00','13 May 22:00','16 May 23:05','18 May 00:00','19 May 01:00','20 May 02:00','21 May 03:00','24 May 04:00'][round((datum.value + 0.5) / 24)]", "labelAlign": "left", "labelFontSize": 12, "labelPadding": 1, "labelFlush": false, "labelOverlap": false, "title": null}},
  "y": {"field": "s", "type": "quantitative", "scale": {"domain": [-4.865, 7.593], "nice": false, "zero": false, "padding": 0},
        "axis": {"orient": "right", "values": [-4.865, 0, 7.593], "labelExpr": "datum.value == 0 ? '0.00' : format(datum.value, '.3f')", "labelFlush": true, "labelPadding": 3, "labelOverlap": false, "title": null}}}},
{"data": {"values": [{}]}, "mark": {"type": "text", "align": "left", "baseline": "middle", "font": "Liberation Sans", "fontSize": 12.6, "color": "#e8e8e8", "text": "MACD(12,26,9) 2.241 1.990 0.327 0.000 1.990"},
 "encoding": {
  "x": {"datum": 0.6, "type": "quantitative", "scale": {"domain": [-0.625, 259.375], "nice": false, "zero": false, "padding": 0},
        "axis": {"orient": "bottom", "values": [-0.5, 23.5, 47.5, 71.5, 95.5, 119.5, 143.5, 167.5, 191.5, 215.5], "labelExpr": "['10 May 2021','11 May 19:00','12 May 20:00','13 May 22:00','16 May 23:05','18 May 00:00','19 May 01:00','20 May 02:00','21 May 03:00','24 May 04:00'][round((datum.value + 0.5) / 24)]", "labelAlign": "left", "labelFontSize": 12, "labelPadding": 1, "labelFlush": false, "labelOverlap": false, "title": null}},
  "y": {"datum": 6.75, "type": "quantitative", "scale": {"domain": [-4.865, 7.593], "nice": false, "zero": false, "padding": 0},
        "axis": {"orient": "right", "values": [-4.865, 0, 7.593], "labelExpr": "datum.value == 0 ? '0.00' : format(datum.value, '.3f')", "labelFlush": true, "labelPadding": 3, "labelOverlap": false, "title": null}}}},
{"data": {"values": [{}]}, "mark": {"type": "point", "shape": "square", "size": 1200, "filled": false, "stroke": "#6a6a6a", "strokeWidth": 4, "opacity": 0.8},
 "encoding": {
  "x": {"datum": 239.4, "type": "quantitative", "scale": {"domain": [-0.625, 259.375], "nice": false, "zero": false, "padding": 0},
        "axis": {"orient": "bottom", "values": [-0.5, 23.5, 47.5, 71.5, 95.5, 119.5, 143.5, 167.5, 191.5, 215.5], "labelExpr": "['10 May 2021','11 May 19:00','12 May 20:00','13 May 22:00','16 May 23:05','18 May 00:00','19 May 01:00','20 May 02:00','21 May 03:00','24 May 04:00'][round((datum.value + 0.5) / 24)]", "labelAlign": "left", "labelFontSize": 12, "labelPadding": 1, "labelFlush": false, "labelOverlap": false, "title": null}},
  "y": {"datum": -3.5, "type": "quantitative", "scale": {"domain": [-4.865, 7.593], "nice": false, "zero": false, "padding": 0},
        "axis": {"orient": "right", "values": [-4.865, 0, 7.593], "labelExpr": "datum.value == 0 ? '0.00' : format(datum.value, '.3f')", "labelFlush": true, "labelPadding": 3, "labelOverlap": false, "title": null}}}},
{"data": {"values": [{}]}, "mark": {"type": "text", "align": "left", "baseline": "middle", "font": "Liberation Sans", "fontWeight": "bold", "fontSize": 32, "color": "#6a6a6a", "opacity": 0.8, "text": "WikiFX"},
 "encoding": {
  "x": {"datum": 245.4, "type": "quantitative", "scale": {"domain": [-0.625, 259.375], "nice": false, "zero": false, "padding": 0},
        "axis": {"orient": "bottom", "values": [-0.5, 23.5, 47.5, 71.5, 95.5, 119.5, 143.5, 167.5, 191.5, 215.5], "labelExpr": "['10 May 2021','11 May 19:00','12 May 20:00','13 May 22:00','16 May 23:05','18 May 00:00','19 May 01:00','20 May 02:00','21 May 03:00','24 May 04:00'][round((datum.value + 0.5) / 24)]", "labelAlign": "left", "labelFontSize": 12, "labelPadding": 1, "labelFlush": false, "labelOverlap": false, "title": null}},
  "y": {"datum": -3.5, "type": "quantitative", "scale": {"domain": [-4.865, 7.593], "nice": false, "zero": false, "padding": 0},
        "axis": {"orient": "right", "values": [-4.865, 0, 7.593], "labelExpr": "datum.value == 0 ? '0.00' : format(datum.value, '.3f')", "labelFlush": true, "labelPadding": 3, "labelOverlap": false, "title": null}}}}
]
}
]
}
